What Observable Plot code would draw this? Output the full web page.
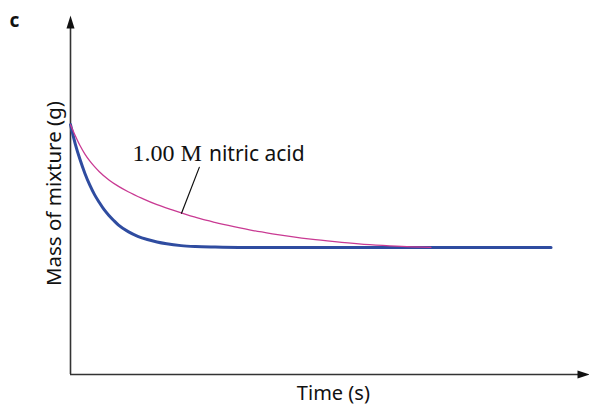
<!DOCTYPE html>
<html>
<head>
<meta charset="utf-8">
<script src="https://cdn.jsdelivr.net/npm/d3@7"></script>
<script src="https://cdn.jsdelivr.net/npm/@observablehq/plot@0.6"></script>
<style>
  html, body { margin: 0; padding: 0; background: #fff; }
</style>
</head>
<body>
<div id="chart"></div>
<script>
// Time (arbitrary units) and mass of mixture (arbitrary units)
const blueTime = [0, 1, 2, 3, 4, 5, 6, 7, 8, 9, 10, 12, 14, 16, 18, 20, 23, 26, 30, 35, 100];
const blueMass = [69.6, 64.2, 59.8, 56.0, 52.8, 50.1, 47.9, 45.9, 44.3, 42.9, 41.6, 39.8, 38.5, 37.6, 36.9, 36.4, 35.9, 35.65, 35.5, 35.4, 35.4];

const pinkTime = [0, 1, 2, 3, 4, 5, 6, 8, 10, 12, 15, 18, 21, 24, 27, 30, 34, 38, 42, 46, 50, 55, 60, 65, 70, 75];
const pinkMass = [69.6, 66.5, 63.7, 61.4, 59.5, 57.9, 56.5, 54.2, 52.4, 50.9, 49.0, 47.3, 45.9, 44.6, 43.4, 42.4, 41.2, 40.1, 39.2, 38.4, 37.7, 37.0, 36.4, 35.95, 35.6, 35.4];

const panelLabel = "c";
const xTitle = "Time (s)";
const yTitle = "Mass of mixture (g)";
const seriesLabelSerif = "1.00 M";
const seriesLabelSans = "nitric acid";

const xMax = 108;   // end of the time axis arrow
const yMax = 100;   // end of the mass axis arrow

const blue = blueTime.map((t, i) => ({t, m: blueMass[i]}));
const pink = pinkTime.map((t, i) => ({t, m: pinkMass[i]}));

const leader = [{t: 26.8, m: 57.7}, {t: 23.1, m: 44.9}];

const arrowUp = {
  draw(ctx) { ctx.moveTo(0, 0); ctx.lineTo(-4, 13); ctx.lineTo(4, 13); ctx.closePath(); }
};
const arrowRight = {
  draw(ctx) { ctx.moveTo(0, 0); ctx.lineTo(-12, -4); ctx.lineTo(-12, 4); ctx.closePath(); }
};

const axisColor = "#333";
const sans = "'Noto Sans', 'Open Sans', sans-serif";

const chart = Plot.plot({
  width: 589,
  height: 405,
  marginLeft: 70,
  marginRight: 0,
  marginTop: 15,
  marginBottom: 31,
  x: {domain: [0, xMax], axis: null},
  y: {domain: [0, yMax], axis: null},
  style: {fontFamily: sans, background: "#fff", overflow: "visible"},
  marks: [
    Plot.ruleX([0], {y1: 0, y2: yMax - 2, stroke: axisColor, strokeWidth: 1.6}),
    Plot.ruleY([0], {x1: 0, x2: xMax - 2, stroke: axisColor, strokeWidth: 1.6}),
    Plot.dot([{t: 0, m: yMax}], {x: "t", y: "m", symbol: arrowUp, r: 5, fill: "#111", stroke: null}),
    Plot.dot([{t: xMax, m: 0}], {x: "t", y: "m", symbol: arrowRight, r: 5, fill: "#111", stroke: null}),
    Plot.line(blue, {x: "t", y: "m", curve: "monotone-x", stroke: "#2f4ca0", strokeWidth: 3}),
    Plot.line(pink, {x: "t", y: "m", curve: "monotone-x", stroke: "#c93a93", strokeWidth: 1.3}),
    Plot.line(leader, {x: "t", y: "m", stroke: "#111", strokeWidth: 1.2}),
    Plot.text([seriesLabelSerif], {x: 12.9, y: 59.4, text: d => d, textAnchor: "start", lineAnchor: "bottom",
      fontFamily: "'Liberation Serif', 'Times New Roman', serif", fontSize: 24, fill: "#111"}),
    Plot.text([seriesLabelSans], {x: 28.8, y: 59.4, text: d => d, textAnchor: "start", lineAnchor: "bottom",
      fontFamily: sans, fontSize: 21, fill: "#111"}),
    Plot.text([xTitle], {x: 54.7, y: -7.1, text: d => d, textAnchor: "middle", lineAnchor: "bottom",
      fontFamily: sans, fontSize: 20, fill: "#111"}),
    Plot.text([yTitle], {x: -1.9, y: 50.4, text: d => d, textAnchor: "middle", lineAnchor: "bottom", rotate: -90,
      fontFamily: sans, fontSize: 20.5, fill: "#111"}),
    Plot.text([panelLabel], {x: -12.7, y: 96.7, text: d => d, textAnchor: "start", lineAnchor: "bottom",
      fontFamily: sans, fontSize: 19, fontWeight: "bold", fill: "#111"})
  ]
});
document.getElementById("chart").appendChild(chart);
</script>
</body>
</html>
